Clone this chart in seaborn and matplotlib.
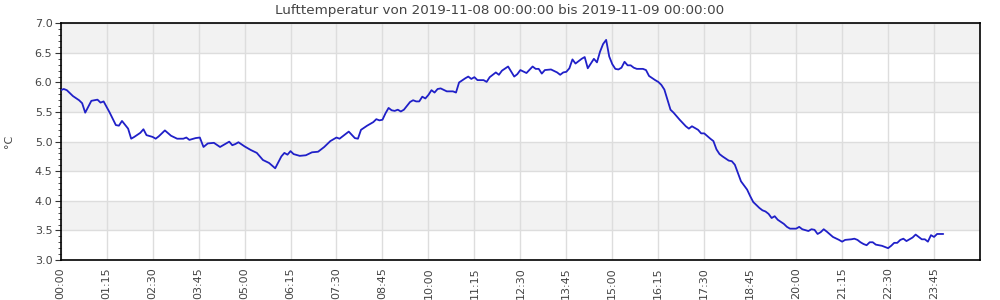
import matplotlib
matplotlib.use("Agg")
import matplotlib.pyplot as plt
import matplotlib.dates as mdates
import matplotlib.ticker as mticker
import numpy as np
import pandas as pd
import seaborn as sns

title = "Lufttemperatur von 2019-11-08 00:00:00 bis 2019-11-09 00:00:00"
y_label = "°C"
start = "2019-11-08 00:00:00"

minutes = [0, 5, 10, 20, 30, 35, 40, 50, 60, 65, 70, 80, 90, 95, 100, 110, 115, 120, 130, 135,
           140, 150, 155, 160, 170, 180, 190, 200, 205, 210, 220, 227, 233, 240, 250, 260, 270, 275, 280, 285,
           290, 300, 310, 320, 330, 340, 350, 360, 365, 370, 375, 380, 390, 400, 410, 420, 430, 440, 450, 455,
           460, 470, 480, 485, 490, 500, 510, 515, 520, 525, 530, 535, 540, 545, 550, 555, 560, 570, 575, 580,
           585, 590, 595, 600, 605, 610, 615, 620, 630, 640, 645, 650, 660, 665, 670, 675, 680, 690, 695, 700,
           710, 715, 720, 730, 740, 745, 750, 760, 770, 775, 780, 785, 790, 800, 810, 815, 820, 825, 830, 835,
           840, 850, 855, 860, 870, 875, 880, 885, 890, 895, 900, 905, 910, 915, 920, 925, 930, 935, 940, 950,
           955, 960, 970, 975, 980, 985, 990, 995, 1000, 1010, 1020, 1025, 1030, 1040, 1045, 1050, 1060, 1065, 1070, 1075,
           1080, 1090, 1095, 1100, 1105, 1110, 1120, 1125, 1130, 1140, 1145, 1150, 1155, 1160, 1165, 1170, 1180, 1185, 1190, 1200,
           1205, 1210, 1220, 1225, 1230, 1235, 1240, 1245, 1250, 1260, 1270, 1275, 1280, 1290, 1295, 1300, 1305, 1310, 1315, 1320,
           1325, 1330, 1340, 1350, 1355, 1360, 1365, 1370, 1375, 1380, 1390, 1395, 1400, 1405, 1410, 1415, 1420, 1425, 1430, 1440]

temps = [5.87, 5.89, 5.87, 5.77, 5.70, 5.65, 5.49, 5.69, 5.71, 5.66, 5.68, 5.49, 5.28, 5.27, 5.35, 5.22, 5.05, 5.08, 5.15, 5.21,
         5.11, 5.08, 5.05, 5.09, 5.19, 5.10, 5.05, 5.05, 5.07, 5.03, 5.06, 5.07, 4.91, 4.97, 4.98, 4.91, 4.97, 5.00, 4.94, 4.96,
         4.99, 4.92, 4.86, 4.81, 4.69, 4.64, 4.55, 4.75, 4.81, 4.78, 4.84, 4.79, 4.76, 4.77, 4.82, 4.83, 4.91, 5.01, 5.07, 5.05,
         5.09, 5.17, 5.06, 5.05, 5.20, 5.27, 5.33, 5.38, 5.36, 5.37, 5.48, 5.57, 5.53, 5.52, 5.54, 5.51, 5.54, 5.67, 5.70, 5.68,
         5.68, 5.76, 5.73, 5.79, 5.87, 5.83, 5.89, 5.90, 5.85, 5.85, 5.83, 6.00, 6.07, 6.10, 6.06, 6.09, 6.04, 6.04, 6.01, 6.09,
         6.17, 6.13, 6.20, 6.27, 6.10, 6.14, 6.21, 6.16, 6.27, 6.23, 6.23, 6.15, 6.21, 6.22, 6.17, 6.13, 6.17, 6.18, 6.24, 6.39,
         6.32, 6.40, 6.43, 6.24, 6.40, 6.34, 6.52, 6.65, 6.72, 6.44, 6.31, 6.23, 6.22, 6.25, 6.35, 6.29, 6.29, 6.25, 6.23, 6.23,
         6.21, 6.11, 6.04, 6.01, 5.96, 5.88, 5.71, 5.54, 5.49, 5.37, 5.26, 5.22, 5.26, 5.20, 5.14, 5.14, 5.05, 5.01, 4.87, 4.79,
         4.75, 4.68, 4.67, 4.61, 4.47, 4.33, 4.19, 4.08, 3.98, 3.88, 3.84, 3.82, 3.78, 3.71, 3.74, 3.68, 3.61, 3.56, 3.53, 3.53,
         3.56, 3.52, 3.49, 3.52, 3.51, 3.44, 3.47, 3.52, 3.48, 3.39, 3.34, 3.31, 3.34, 3.35, 3.36, 3.34, 3.30, 3.27, 3.25, 3.30,
         3.30, 3.26, 3.24, 3.20, 3.24, 3.29, 3.29, 3.34, 3.36, 3.32, 3.38, 3.43, 3.39, 3.35, 3.35, 3.31, 3.42, 3.39, 3.44, 3.44]

t0 = pd.Timestamp(start)
df = pd.DataFrame({"time": t0 + pd.to_timedelta(minutes, unit="min"), "temp": temps})

sns.set_theme(style="white")
plt.rcParams["font.family"] = ["DejaVu Sans"]

fig = plt.figure(figsize=(10, 3), dpi=100)
ax = fig.add_axes([0.0607, 0.1333, 0.9193, 0.7890])

# alternating bands
for lo in np.arange(3.5, 7.0, 1.0):
    ax.axhspan(lo, lo + 0.5, color="#f2f2f2", zorder=0, lw=0)

sns.lineplot(data=df, x="time", y="temp", ax=ax, color="#2020c8", lw=1.3, zorder=3)

ax.set_ylim(3.0, 7.0)
ax.set_xlim(t0, t0 + pd.Timedelta(minutes=1500))
ax.yaxis.set_major_locator(mticker.MultipleLocator(0.5))
ax.yaxis.set_minor_locator(mticker.MultipleLocator(0.1))
ax.yaxis.set_major_formatter(mticker.FormatStrFormatter("%.1f"))

xticks = pd.date_range(t0, periods=20, freq="75min")
ax.set_xticks(xticks)
ax.xaxis.set_major_formatter(mdates.DateFormatter("%H:%M"))
plt.setp(ax.get_xticklabels(), rotation=90)

ax.grid(True, which="major", color="#dddddd", lw=1, zorder=1)
ax.set_axisbelow(True)

ax.tick_params(axis="y", which="major", left=True, length=4, width=0.8, color="#333333",
               labelsize=8, labelcolor="#444444", pad=2)
ax.tick_params(axis="y", which="minor", left=True, length=2, width=0.6, color="#333333")
ax.tick_params(axis="x", which="both", bottom=False, length=0, labelsize=8, labelcolor="#444444", pad=5)

for s in ax.spines.values():
    s.set_color("black")
    s.set_linewidth(1.2)

ax.set_xlabel("")
ax.set_ylabel("")
fig.text(0.009, 0.53, y_label, fontsize=8, color="#444444", rotation=90, ha="center", va="center")
fig.text(0.5, 0.965, title, fontsize=9.7, color="#444444", ha="center", va="center")

fig.savefig("out.png", dpi=100)
